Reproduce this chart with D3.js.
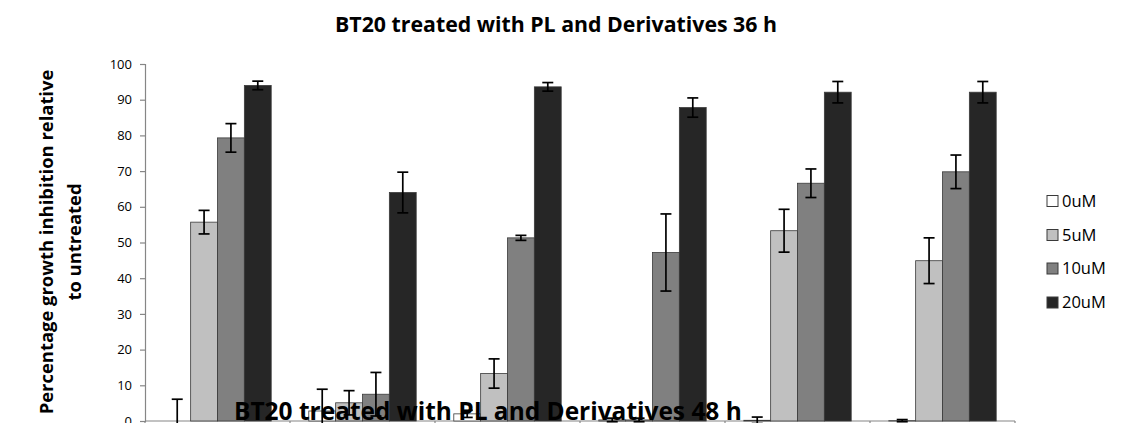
<!DOCTYPE html>
<html>
<head>
<meta charset="utf-8">
<script src="https://cdn.jsdelivr.net/npm/d3@7"></script>
<style>
  html, body { margin: 0; padding: 0; background: #fff; }
  svg { display: block; }
  text { font-family: "Open Sans", "DejaVu Sans", sans-serif; }
</style>
</head>
<body>
<svg id="chart" width="1123" height="423"></svg>
<script>
// ---- data ----
const categories = ["G1", "G2", "G3", "G4", "G5", "G6"];
const seriesNames = ["0uM", "5uM", "10uM", "20uM"];
const values0uM  = [0,    2.8,  2.0,  0.3,  0.2,  0.1];
const values5uM  = [55.7, 5.1,  13.3, 0.3,  53.3, 44.9];
const values10uM = [79.3, 7.5,  51.3, 47.2, 66.6, 69.8];
const values20uM = [94.0, 64.0, 93.6, 87.8, 92.1, 92.1];
const errors0uM  = [6.1,  6.1,  1.0,  0.5,  0.9,  0.3];
const errors5uM  = [3.3,  3.4,  4.1,  0.5,  6.0,  6.4];
const errors10uM = [4.0,  6.1,  0.7,  10.8, 4.0,  4.7];
const errors20uM = [1.2,  5.7,  1.2,  2.7,  3.0,  3.0];
const yTicks = [0, 10, 20, 30, 40, 50, 60, 70, 80, 90, 100];
const titleText = "BT20 treated with PL and Derivatives 36 h";
const overlapTitleText = "BT20 treated with PL and Derivatives 48 h";
const yTitleLines = ["Percentage growth inhibition relative", "to untreated"];

const colors = ["#ffffff", "#c0c0c0", "#808080", "#262626"];
const valueSets = [values0uM, values5uM, values10uM, values20uM];
const errorSets = [errors0uM, errors5uM, errors10uM, errors20uM];

const data = categories.map((c, i) => ({
  cat: c,
  bars: seriesNames.map((s, j) => ({ series: s, value: valueSets[j][i], err: errorSets[j][i], color: colors[j] }))
}));

const svg = d3.select("#chart");

// ---- scales ----
const plotLeft = 145, plotRight = 1015, plotTop = 64, plotBottom = 421;
const x0 = d3.scaleBand().domain(categories).range([plotLeft, plotRight]).paddingInner(0).paddingOuter(0);
const x1 = d3.scaleBand().domain(seriesNames).range([0, x0.bandwidth()]).paddingInner(0).paddingOuter(0.7);
const y = d3.scaleLinear().domain([0, 100]).range([plotBottom, plotTop]);

// ---- helper to fit text width ----
function fitText(sel, targetWidth) {
  const node = sel.node();
  const fs = parseFloat(sel.attr("font-size"));
  const w = node.getComputedTextLength();
  if (w > 0) sel.attr("font-size", (fs * targetWidth / w).toFixed(2));
}

// ---- y axis ----
const yAxis = d3.axisLeft(y).tickValues(yTicks).tickSize(5).tickPadding(8).tickFormat(d3.format("d"));
const yg = svg.append("g").attr("transform", `translate(${plotLeft},0)`).call(yAxis);
yg.select(".domain").attr("stroke", "#868686").attr("stroke-width", 1.2);
yg.selectAll(".tick line").attr("stroke", "#868686").attr("stroke-width", 1.2);
yg.selectAll(".tick text").attr("font-size", 13).attr("fill", "#000")
  .attr("font-family", "'Open Sans', sans-serif");

// ---- x axis (group separators) ----
const boundaries = categories.map(c => x0(c)).concat([plotRight]);
const xg = svg.append("g");
xg.append("line").attr("x1", plotLeft).attr("x2", plotRight).attr("y1", plotBottom).attr("y2", plotBottom)
  .attr("stroke", "#868686").attr("stroke-width", 1.2);
xg.selectAll("line.sep").data(boundaries).join("line").attr("class", "sep")
  .attr("x1", d => d).attr("x2", d => d).attr("y1", plotBottom).attr("y2", plotBottom + 6)
  .attr("stroke", "#868686").attr("stroke-width", 1.2);

// ---- bars ----
const groups = svg.append("g").selectAll("g.grp").data(data).join("g")
  .attr("class", "grp").attr("transform", d => `translate(${x0(d.cat)},0)`);

groups.selectAll("rect").data(d => d.bars).join("rect")
  .attr("x", d => x1(d.series))
  .attr("y", d => y(Math.max(0, d.value)))
  .attr("width", x1.bandwidth())
  .attr("height", d => Math.abs(y(d.value) - y(0)))
  .attr("fill", d => d.color)
  .attr("stroke", "#3a3a3a")
  .attr("stroke-width", 0.8);

// ---- error bars ----
const capW = 5.5;
const eb = groups.selectAll("g.err").data(d => d.bars).join("g").attr("class", "err")
  .attr("transform", d => `translate(${x1(d.series) + x1.bandwidth() / 2},0)`);
eb.append("line").attr("x1", 0).attr("x2", 0)
  .attr("y1", d => y(d.value + d.err)).attr("y2", d => y(d.value - d.err))
  .attr("stroke", "#000").attr("stroke-width", 1.7);
eb.append("line").attr("x1", -capW).attr("x2", capW)
  .attr("y1", d => y(d.value + d.err)).attr("y2", d => y(d.value + d.err))
  .attr("stroke", "#000").attr("stroke-width", 1.7);
eb.append("line").attr("x1", -capW).attr("x2", capW)
  .attr("y1", d => y(d.value - d.err)).attr("y2", d => y(d.value - d.err))
  .attr("stroke", "#000").attr("stroke-width", 1.7);

// ---- title ----
const t = svg.append("text").attr("x", 556).attr("y", 32).attr("text-anchor", "middle")
  .attr("font-weight", "bold").attr("font-size", 19).attr("fill", "#000").text(titleText);
fitText(t, 442);

// ---- y-axis title ----
const yt1 = svg.append("text").attr("transform", "translate(53,242) rotate(-90)")
  .attr("text-anchor", "middle").attr("font-weight", "bold").attr("font-size", 16).attr("fill", "#000")
  .text(yTitleLines[0]);
fitText(yt1, 345);
const yt2 = svg.append("text").attr("transform", "translate(81,242) rotate(-90)")
  .attr("text-anchor", "middle").attr("font-weight", "bold").attr("font-size", parseFloat(yt1.attr("font-size")))
  .attr("fill", "#000").text(yTitleLines[1]);

// ---- legend ----
const legendY = [201, 235, 268.5, 302.5];
const lg = svg.append("g").selectAll("g").data(seriesNames).join("g")
  .attr("transform", (d, i) => `translate(1047,${legendY[i]})`);
lg.append("rect").attr("x", 0).attr("y", -5.5).attr("width", 11).attr("height", 11)
  .attr("fill", (d, i) => colors[i]).attr("stroke", "#3a3a3a").attr("stroke-width", 1);
lg.append("text").attr("x", 15).attr("y", 0).attr("dy", "0.36em")
  .attr("font-size", 16.5).attr("fill", "#000").text(d => d);

// ---- overlapping title from neighbouring chart ----
const t2 = svg.append("text").attr("x", 234).attr("y", 420).attr("text-anchor", "start")
  .attr("font-weight", "bold").attr("font-size", 24).attr("fill", "#000").text(overlapTitleText);
fitText(t2, 508);
</script>
</body>
</html>
